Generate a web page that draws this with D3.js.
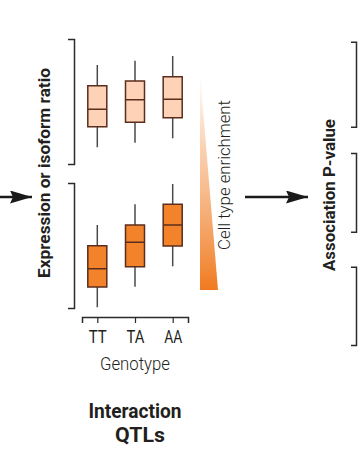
<!DOCTYPE html>
<html><head><meta charset="utf-8">
<script src="https://cdn.jsdelivr.net/npm/d3@7"></script>
<style>
html,body{margin:0;padding:0;background:#fff;}
svg{display:block;}
text{font-family:Roboto,"Liberation Sans",sans-serif;fill:#231f20;}
</style></head>
<body><svg id="c" width="360" height="450"></svg>
<script>
// ---- data ----
const genotypes = ["TT", "TA", "AA"];
// box stats: [whiskerLow, q1, median, q3, whiskerHigh] on a 0-10 scale
const topPanel = [
  [1.34, 2.98, 4.38, 6.26, 7.92],
  [1.70, 3.34, 5.14, 6.64, 8.26],
  [2.06, 3.70, 5.18, 6.98, 8.64]
];
const bottomPanel = [
  [0.06, 1.68, 3.14, 4.98, 6.64],
  [1.70, 3.30, 5.26, 6.64, 8.30],
  [3.34, 4.96, 6.64, 8.30, 9.92]
];
const panelColors = ["#fdd2b6", "#f3832b"];
const xLabel = "Genotype";
const yLabel = "Expression or isoform ratio";
const enrichLabel = "Cell type enrichment";
const assocLabel = "Association P-value";
const titleLines = ["Interaction", "QTLs"];

const svg = d3.select("#c");
const stroke = "#5a2d1d";
const dark = "#2b2b2b";

// markers
const defs = svg.append("defs");
defs.append("marker").attr("id","ah").attr("viewBox","0 0 22 13")
  .attr("refX",22).attr("refY",6.5).attr("markerWidth",22).attr("markerHeight",13)
  .attr("markerUnits","userSpaceOnUse").attr("orient","auto")
  .append("path").attr("d","M0,0 L22,6.5 L0,13 L3,6.5 Z").attr("fill","#1a1a1a");
const grad = defs.append("linearGradient").attr("id","g").attr("x1",0).attr("y1",0).attr("x2",0).attr("y2",1);
grad.append("stop").attr("offset","0").attr("stop-color","#f7a25f").attr("stop-opacity",0);
grad.append("stop").attr("offset","0.35").attr("stop-color","#f5a263").attr("stop-opacity",0.5);
grad.append("stop").attr("offset","1").attr("stop-color","#f07a1f").attr("stop-opacity",1);

function fitText(sel, w){
  sel.attr("textLength", w).attr("lengthAdjust","spacingAndGlyphs");
}

// scales
const x = d3.scalePoint().domain(genotypes).range([82,188]).padding(0.406);
const yTop = d3.scaleLinear().domain([0,10]).range([164,39]);
const yBot = d3.scaleLinear().domain([0,10]).range([308,183]);

// left brackets
[yTop,yBot].forEach(s=>{
  const g = svg.append("g").attr("transform","translate(74,0)")
    .call(d3.axisLeft(s).tickValues([]).tickSizeOuter(6));
  g.select(".domain").attr("stroke",dark).attr("stroke-width",1.5);
});

// boxes
function drawBoxes(data, y, color){
  const bw = 19;
  const g = svg.append("g");
  const b = g.selectAll("g").data(data).join("g");
  b.append("line").attr("x1",(d,i)=>x(genotypes[i])).attr("x2",(d,i)=>x(genotypes[i]))
    .attr("y1",d=>y(d[0])).attr("y2",d=>y(d[4])).attr("stroke","#4a4a4a").attr("stroke-width",1.5);
  b.append("rect").attr("x",(d,i)=>x(genotypes[i])-bw/2).attr("width",bw)
    .attr("y",d=>y(d[3])).attr("height",d=>y(d[1])-y(d[3]))
    .attr("fill",color).attr("stroke",stroke).attr("stroke-width",1.5);
  b.append("line").attr("x1",(d,i)=>x(genotypes[i])-bw/2).attr("x2",(d,i)=>x(genotypes[i])+bw/2)
    .attr("y1",d=>y(d[2])).attr("y2",d=>y(d[2])).attr("stroke",stroke).attr("stroke-width",1.5);
}
drawBoxes(topPanel, yTop, panelColors[0]);
drawBoxes(bottomPanel, yBot, panelColors[1]);

// x axis
const xa = svg.append("g").attr("transform","translate(0,317)")
  .call(d3.axisBottom(x).tickSizeOuter(0).tickSize(6));
xa.select(".domain").attr("stroke",dark).attr("stroke-width",1.5);
xa.selectAll(".tick line").attr("stroke",dark).attr("stroke-width",1.2);
xa.selectAll(".tick text").attr("font-size",18.5).attr("fill","#231f20")
  .attr("font-family","Roboto").attr("font-weight",400).attr("y",26).attr("dy",0)
  .each(function(){ fitText(d3.select(this),18); });

svg.append("text").attr("x",135).attr("y",370).attr("text-anchor","middle")
  .attr("font-size",18).attr("font-weight",300).text(xLabel)
  .call(fitText,70);

svg.append("text").attr("x",135).attr("y",418).attr("text-anchor","middle")
  .attr("font-size",20).attr("font-weight",700).text(titleLines[0]).call(fitText,93);
svg.append("text").attr("x",140).attr("y",442).attr("text-anchor","middle")
  .attr("font-size",20).attr("font-weight",700).text(titleLines[1]).call(fitText,50);

// y label
svg.append("text").attr("transform","translate(50,173) rotate(-90)").attr("text-anchor","middle")
  .attr("font-size",16.5).attr("font-weight",700).text(yLabel).call(fitText,210);

// left arrow
svg.append("line").attr("x1",0).attr("x2",32).attr("y1",197).attr("y2",197)
  .attr("stroke","#1a1a1a").attr("stroke-width",2.5).attr("marker-end","url(#ah)");

// gradient triangle
svg.append("path").attr("d","M200,73 L200,290 L218,290 Z").attr("fill","url(#g)");

svg.append("text").attr("transform","translate(230,175) rotate(-90)").attr("text-anchor","middle")
  .attr("font-size",17).attr("font-weight",300).text(enrichLabel).call(fitText,150);

// right arrow
svg.append("line").attr("x1",245).attr("x2",308).attr("y1",197).attr("y2",197)
  .attr("stroke","#1a1a1a").attr("stroke-width",2.5).attr("marker-end","url(#ah)");

svg.append("text").attr("transform","translate(335,195) rotate(-90)").attr("text-anchor","middle")
  .attr("font-size",17).attr("font-weight",700).text(assocLabel).call(fitText,152);

// right brackets
const rightRanges = [[126.7,41.7],[231.7,153],[345,266.7]];
rightRanges.forEach(r=>{
  const s = d3.scaleLinear().domain([0,1]).range(r);
  const g = svg.append("g").attr("transform","translate(356,0)")
    .call(d3.axisLeft(s).tickValues([]).tickSizeOuter(5));
  g.select(".domain").attr("stroke",dark).attr("stroke-width",1.5);
});
</script></body></html>
